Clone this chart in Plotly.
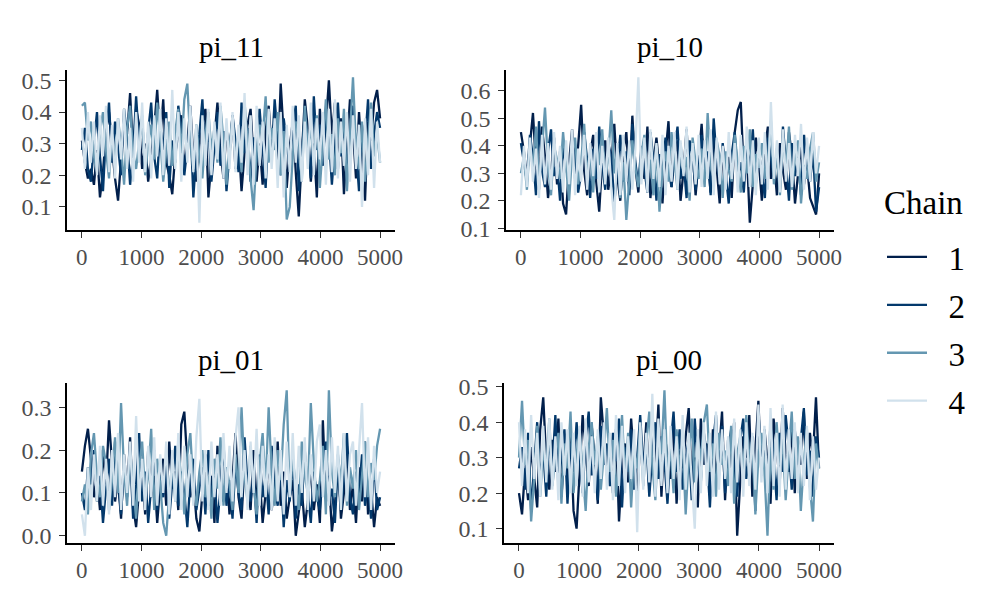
import numpy as np
import plotly.graph_objects as go

# MCMC trace plot: 4 parameters x 4 chains, 5000 post-warmup draws each.
# Each chain is kept as a thinned set of draws (100 per chain).

CHAINS = ["1", "2", "3", "4"]
PANEL_TITLES = ["pi_11", "pi_10", "pi_01", "pi_00"]
X_TICKS = [0, 1000, 2000, 3000, 4000, 5000]
N_ITER = 5000

pi_11_chain1 = [0.31, 0.24, 0.19, 0.22, 0.17, 0.28, 0.13, 0.21, 0.34, 0.40,
                0.29, 0.19, 0.12, 0.25, 0.38, 0.33, 0.46, 0.27, 0.41, 0.36,
                0.22, 0.30, 0.18, 0.26, 0.35, 0.47, 0.31, 0.44, 0.24, 0.20,
                0.14, 0.27, 0.33, 0.39, 0.22, 0.30, 0.42, 0.25, 0.18, 0.29,
                0.36, 0.41, 0.13, 0.24, 0.32, 0.43, 0.28, 0.19, 0.35, 0.26,
                0.39, 0.22, 0.31, 0.15, 0.27, 0.36, 0.41, 0.25, 0.18, 0.30,
                0.17, 0.34, 0.42, 0.28, 0.38, 0.23, 0.49, 0.33, 0.16, 0.29,
                0.37, 0.21, 0.07, 0.26, 0.44, 0.35, 0.18, 0.30, 0.13, 0.41,
                0.27, 0.36, 0.50, 0.32, 0.43, 0.22, 0.38, 0.14, 0.29, 0.44,
                0.34, 0.19, 0.40, 0.26, 0.12, 0.37, 0.31, 0.43, 0.47, 0.38]
pi_11_chain2 = [0.28, 0.35, 0.22, 0.18, 0.30, 0.40, 0.26, 0.15, 0.33, 0.43,
                0.24, 0.37, 0.29, 0.20, 0.41, 0.32, 0.17, 0.27, 0.45, 0.30,
                0.38, 0.21, 0.34, 0.43, 0.26, 0.19, 0.36, 0.28, 0.40, 0.16,
                0.31, 0.24, 0.42, 0.35, 0.20, 0.29, 0.38, 0.13, 0.27, 0.33,
                0.44, 0.25, 0.36, 0.18, 0.30, 0.40, 0.23, 0.34, 0.15, 0.28,
                0.39, 0.31, 0.21, 0.43, 0.27, 0.35, 0.18, 0.32, 0.24, 0.41,
                0.29, 0.16, 0.37, 0.26, 0.44, 0.33, 0.20, 0.38, 0.30, 0.22,
                0.35, 0.42, 0.15, 0.27, 0.39, 0.31, 0.19, 0.45, 0.28, 0.36,
                0.23, 0.40, 0.32, 0.17, 0.29, 0.43, 0.26, 0.37, 0.21, 0.34,
                0.42, 0.28, 0.15, 0.36, 0.30, 0.44, 0.22, 0.33, 0.40, 0.35]
pi_11_chain3 = [0.42, 0.43, 0.31, 0.37, 0.26, 0.21, 0.34, 0.40, 0.28, 0.19,
                0.33, 0.24, 0.38, 0.29, 0.17, 0.35, 0.42, 0.27, 0.22, 0.31,
                0.39, 0.20, 0.30, 0.36, 0.25, 0.43, 0.32, 0.18, 0.28, 0.37,
                0.23, 0.34, 0.41, 0.27, 0.44, 0.49, 0.30, 0.22, 0.36, 0.26,
                0.19, 0.33, 0.40, 0.28, 0.35, 0.24, 0.42, 0.31, 0.17, 0.29,
                0.38, 0.25, 0.33, 0.21, 0.43, 0.30, 0.19, 0.09, 0.27, 0.36,
                0.32, 0.45, 0.24, 0.35, 0.28, 0.40, 0.20, 0.34, 0.06, 0.10,
                0.26, 0.37, 0.31, 0.18, 0.42, 0.29, 0.35, 0.23, 0.39, 0.16,
                0.30, 0.44, 0.25, 0.33, 0.20, 0.38, 0.27, 0.41, 0.15, 0.34,
                0.51, 0.29, 0.22, 0.37, 0.18, 0.31, 0.43, 0.26, 0.33, 0.24]
pi_11_chain4 = [0.35, 0.22, 0.40, 0.24, 0.37, 0.20, 0.39, 0.26, 0.42, 0.21,
                0.36, 0.19, 0.38, 0.25, 0.41, 0.22, 0.35, 0.18, 0.40, 0.24,
                0.43, 0.21, 0.37, 0.19, 0.39, 0.26, 0.41, 0.20, 0.38, 0.23,
                0.47, 0.22, 0.40, 0.18, 0.38, 0.24, 0.42, 0.21, 0.36, 0.05,
                0.39, 0.23, 0.41, 0.20, 0.37, 0.25, 0.43, 0.19, 0.38, 0.22,
                0.40, 0.21, 0.36, 0.24, 0.46, 0.20, 0.39, 0.17, 0.42, 0.23,
                0.37, 0.19, 0.41, 0.22, 0.38, 0.16, 0.40, 0.13, 0.36, 0.21,
                0.42, 0.24, 0.39, 0.18, 0.37, 0.22, 0.43, 0.20, 0.38, 0.25,
                0.40, 0.17, 0.41, 0.21, 0.44, 0.19, 0.37, 0.23, 0.40, 0.18,
                0.39, 0.22, 0.36, 0.10, 0.38, 0.20, 0.41, 0.16, 0.37, 0.24]

pi_10_chain1 = [0.45, 0.38, 0.29, 0.41, 0.52, 0.33, 0.24, 0.47, 0.36, 0.21,
                0.30, 0.43, 0.26, 0.38, 0.19, 0.15, 0.34, 0.46, 0.28, 0.40,
                0.55, 0.31, 0.22, 0.37, 0.44, 0.27, 0.16, 0.35, 0.42, 0.24,
                0.33, 0.48, 0.29, 0.20, 0.38, 0.45, 0.26, 0.51, 0.32, 0.23,
                0.39, 0.28, 0.47, 0.21, 0.34, 0.43, 0.30, 0.19, 0.37, 0.49,
                0.25, 0.36, 0.42, 0.20, 0.31, 0.46, 0.27, 0.39, 0.22, 0.34,
                0.48, 0.29, 0.37, 0.23, 0.44, 0.32, 0.19, 0.40, 0.27, 0.36,
                0.21, 0.45, 0.53, 0.56, 0.30, 0.38, 0.12, 0.26, 0.43, 0.34,
                0.20, 0.39, 0.47, 0.28, 0.35, 0.22, 0.41, 0.31, 0.24, 0.45,
                0.36, 0.19, 0.29, 0.40, 0.26, 0.33, 0.21, 0.18, 0.15, 0.30]
pi_10_chain2 = [0.41, 0.33, 0.27, 0.44, 0.36, 0.22, 0.49, 0.31, 0.25, 0.38,
                0.46, 0.29, 0.34, 0.20, 0.40, 0.32, 0.26, 0.43, 0.37, 0.23,
                0.30, 0.45, 0.35, 0.21, 0.39, 0.28, 0.47, 0.33, 0.24, 0.41,
                0.36, 0.19, 0.31, 0.44, 0.27, 0.38, 0.22, 0.48, 0.34, 0.26,
                0.40, 0.31, 0.23, 0.45, 0.35, 0.20, 0.37, 0.29, 0.43, 0.32,
                0.25, 0.39, 0.47, 0.28, 0.34, 0.21, 0.42, 0.36, 0.24, 0.33,
                0.44, 0.30, 0.38, 0.22, 0.50, 0.35, 0.27, 0.41, 0.31, 0.19,
                0.37, 0.45, 0.29, 0.34, 0.23, 0.40, 0.32, 0.46, 0.26, 0.38,
                0.30, 0.21, 0.43, 0.35, 0.28, 0.39, 0.24, 0.47, 0.33, 0.20,
                0.41, 0.29, 0.36, 0.22, 0.44, 0.31, 0.27, 0.38, 0.16, 0.25]
pi_10_chain3 = [0.30, 0.36, 0.24, 0.42, 0.31, 0.47, 0.27, 0.39, 0.54, 0.33,
                0.22, 0.40, 0.35, 0.28, 0.45, 0.31, 0.20, 0.37, 0.43, 0.26,
                0.34, 0.48, 0.29, 0.38, 0.23, 0.41, 0.33, 0.46, 0.27, 0.36,
                0.53, 0.30, 0.39, 0.21, 0.34, 0.13, 0.28, 0.42, 0.32, 0.25,
                0.37, 0.44, 0.29, 0.35, 0.22, 0.40, 0.16, 0.31, 0.38, 0.27,
                0.45, 0.33, 0.24, 0.41, 0.30, 0.36, 0.20, 0.43, 0.34, 0.28,
                0.39, 0.25, 0.52, 0.33, 0.28, 0.42, 0.36, 0.21, 0.38, 0.31,
                0.27, 0.44, 0.34, 0.23, 0.40, 0.30, 0.46, 0.25, 0.37, 0.32,
                0.41, 0.28, 0.35, 0.49, 0.26, 0.38, 0.22, 0.43, 0.31, 0.47,
                0.24, 0.36, 0.42, 0.19, 0.33, 0.28, 0.39, 0.45, 0.27, 0.34]
pi_10_chain4 = [0.22, 0.40, 0.25, 0.43, 0.27, 0.39, 0.21, 0.44, 0.26, 0.41,
                0.24, 0.45, 0.28, 0.40, 0.23, 0.42, 0.26, 0.46, 0.22, 0.39,
                0.27, 0.44, 0.24, 0.41, 0.29, 0.45, 0.23, 0.40, 0.26, 0.43,
                0.25, 0.13, 0.41, 0.22, 0.44, 0.27, 0.42, 0.24, 0.39, 0.65,
                0.26, 0.43, 0.23, 0.46, 0.28, 0.41, 0.25, 0.44, 0.22, 0.40,
                0.27, 0.45, 0.24, 0.42, 0.29, 0.47, 0.23, 0.41, 0.26, 0.44,
                0.25, 0.42, 0.28, 0.46, 0.22, 0.43, 0.26, 0.40, 0.24, 0.45,
                0.28, 0.41, 0.23, 0.44, 0.27, 0.47, 0.25, 0.42, 0.22, 0.43,
                0.26, 0.45, 0.24, 0.56, 0.28, 0.42, 0.23, 0.46, 0.27, 0.41,
                0.25, 0.44, 0.29, 0.48, 0.24, 0.43, 0.27, 0.45, 0.30, 0.40]

pi_01_chain1 = [0.15, 0.21, 0.25, 0.18, 0.09, 0.14, 0.06, 0.20, 0.12, 0.27,
                0.17, 0.08, 0.13, 0.04, 0.19, 0.10, 0.23, 0.07, 0.02, 0.11,
                0.16, 0.05, 0.20, 0.09, 0.14, 0.03, 0.12, 0.18, 0.07, 0.22,
                0.11, 0.15, 0.06, 0.26, 0.29, 0.17, 0.09, 0.13, 0.04, 0.01,
                0.10, 0.19, 0.07, 0.14, 0.03, 0.21, 0.12, 0.08, 0.16, 0.05,
                0.13, 0.24, 0.09, 0.04, 0.17, 0.11, 0.06, 0.20, 0.08, 0.14,
                0.03, 0.10, 0.18, 0.06, 0.12, 0.22, 0.07, 0.15, 0.04, 0.09,
                0.13, 0.00, 0.05, 0.11, 0.02, 0.08, 0.16, 0.06, 0.12, 0.03,
                0.27, 0.09, 0.14, 0.01, 0.07, 0.18, 0.04, 0.10, 0.21, 0.06,
                0.12, 0.03, 0.16, 0.08, 0.22, 0.05, 0.11, 0.02, 0.09, 0.07]
pi_01_chain2 = [0.10, 0.06, 0.16, 0.12, 0.20, 0.08, 0.14, 0.03, 0.11, 0.18,
                0.07, 0.22, 0.13, 0.05, 0.16, 0.09, 0.19, 0.04, 0.12, 0.24,
                0.08, 0.15, 0.03, 0.11, 0.20, 0.06, 0.14, 0.09, 0.17, 0.04,
                0.12, 0.21, 0.07, 0.15, 0.10, 0.02, 0.13, 0.18, 0.06, 0.11,
                0.16, 0.05, 0.20, 0.09, 0.14, 0.03, 0.11, 0.22, 0.07, 0.13,
                0.04, 0.17, 0.10, 0.06, 0.23, 0.12, 0.08, 0.15, 0.03, 0.19,
                0.09, 0.14, 0.05, 0.21, 0.11, 0.07, 0.16, 0.02, 0.13, 0.08,
                0.18, 0.04, 0.12, 0.07, 0.20, 0.10, 0.03, 0.15, 0.09, 0.06,
                0.14, 0.22, 0.08, 0.11, 0.03, 0.17, 0.06, 0.13, 0.24, 0.09,
                0.05, 0.15, 0.10, 0.19, 0.07, 0.12, 0.04, 0.18, 0.06, 0.09]
pi_01_chain3 = [0.08, 0.12, 0.05, 0.19, 0.24, 0.14, 0.09, 0.21, 0.17, 0.06,
                0.13, 0.23, 0.10, 0.31, 0.15, 0.07, 0.20, 0.11, 0.04, 0.16,
                0.22, 0.09, 0.14, 0.25, 0.06, 0.18, 0.12, 0.03, 0.00, 0.10,
                0.17, 0.08, 0.21, 0.13, 0.05, 0.19, 0.24, 0.11, 0.07, 0.15,
                0.20, 0.09, 0.14, 0.04, 0.18, 0.11, 0.23, 0.07, 0.16, 0.12,
                0.06, 0.19, 0.10, 0.30, 0.14, 0.08, 0.21, 0.12, 0.05, 0.17,
                0.24, 0.11, 0.30, 0.15, 0.07, 0.20, 0.13, 0.26, 0.34, 0.09,
                0.18, 0.12, 0.06, 0.22, 0.14, 0.10, 0.31, 0.17, 0.08, 0.13,
                0.21, 0.05, 0.34, 0.15, 0.09, 0.19, 0.12, 0.24, 0.07, 0.16,
                0.11, 0.20, 0.06, 0.14, 0.22, 0.09, 0.17, 0.13, 0.21, 0.25]
pi_01_chain4 = [0.05, 0.00, 0.16, 0.06, 0.19, 0.08, 0.21, 0.07, 0.18, 0.05,
                0.20, 0.09, 0.24, 0.06, 0.19, 0.10, 0.22, 0.07, 0.28, 0.08,
                0.18, 0.06, 0.21, 0.09, 0.23, 0.07, 0.19, 0.10, 0.22, 0.05,
                0.20, 0.08, 0.24, 0.06, 0.21, 0.09, 0.19, 0.07, 0.23, 0.32,
                0.08, 0.20, 0.06, 0.22, 0.09, 0.19, 0.07, 0.24, 0.10, 0.21,
                0.08, 0.23, 0.30, 0.09, 0.20, 0.06, 0.22, 0.10, 0.25, 0.07,
                0.21, 0.09, 0.19, 0.06, 0.23, 0.08, 0.20, 0.05, 0.22, 0.09,
                0.24, 0.07, 0.21, 0.10, 0.23, 0.06, 0.19, 0.08, 0.22, 0.26,
                0.09, 0.20, 0.07, 0.23, 0.10, 0.21, 0.06, 0.24, 0.08, 0.19,
                0.22, 0.07, 0.20, 0.31, 0.09, 0.23, 0.06, 0.21, 0.10, 0.15]

pi_00_chain1 = [0.20, 0.14, 0.27, 0.18, 0.33, 0.24, 0.16, 0.38, 0.47, 0.29,
                0.21, 0.35, 0.26, 0.41, 0.19, 0.31, 0.24, 0.37, 0.15, 0.10,
                0.28, 0.42, 0.33, 0.22, 0.39, 0.30, 0.17, 0.47, 0.36, 0.25,
                0.31, 0.20, 0.38, 0.12, 0.27, 0.34, 0.23, 0.41, 0.29, 0.18,
                0.35, 0.26, 0.40, 0.21, 0.33, 0.28, 0.45, 0.19, 0.37, 0.30,
                0.24, 0.39, 0.17, 0.32, 0.27, 0.36, 0.44, 0.22, 0.30, 0.16,
                0.41, 0.28, 0.34, 0.20, 0.38, 0.25, 0.31, 0.43, 0.18, 0.35,
                0.27, 0.40, 0.08, 0.23, 0.36, 0.30, 0.42, 0.19, 0.33, 0.46,
                0.25, 0.38, 0.29, 0.17, 0.41, 0.34, 0.22, 0.44, 0.31, 0.26,
                0.39, 0.20, 0.35, 0.28, 0.43, 0.24, 0.37, 0.30, 0.47, 0.27]
pi_00_chain2 = [0.27, 0.33, 0.21, 0.37, 0.15, 0.29, 0.40, 0.24, 0.32, 0.19,
                0.36, 0.27, 0.42, 0.22, 0.31, 0.38, 0.17, 0.34, 0.26, 0.40,
                0.30, 0.20, 0.35, 0.43, 0.25, 0.32, 0.18, 0.39, 0.28, 0.34,
                0.22, 0.37, 0.29, 0.41, 0.16, 0.33, 0.26, 0.38, 0.21, 0.30,
                0.42, 0.27, 0.35, 0.19, 0.31, 0.40, 0.24, 0.36, 0.29, 0.17,
                0.33, 0.43, 0.26, 0.38, 0.21, 0.30, 0.35, 0.18, 0.41, 0.28,
                0.23, 0.37, 0.31, 0.16, 0.34, 0.42, 0.25, 0.39, 0.20, 0.32,
                0.38, 0.27, 0.19, 0.35, 0.41, 0.24, 0.30, 0.36, 0.15, 0.43,
                0.29, 0.34, 0.22, 0.40, 0.31, 0.18, 0.37, 0.26, 0.42, 0.33,
                0.21, 0.38, 0.28, 0.35, 0.44, 0.25, 0.32, 0.19, 0.36, 0.30]
pi_00_chain3 = [0.30, 0.46, 0.28, 0.35, 0.12, 0.24, 0.39, 0.19, 0.33, 0.26,
                0.41, 0.22, 0.30, 0.37, 0.17, 0.34, 0.27, 0.43, 0.20, 0.31,
                0.38, 0.25, 0.15, 0.33, 0.40, 0.28, 0.36, 0.21, 0.31, 0.44,
                0.26, 0.35, 0.19, 0.30, 0.42, 0.24, 0.37, 0.16, 0.32, 0.27,
                0.39, 0.22, 0.34, 0.43, 0.28, 0.18, 0.36, 0.31, 0.49, 0.25,
                0.33, 0.20, 0.38, 0.27, 0.35, 0.14, 0.30, 0.41, 0.23, 0.36,
                0.29, 0.40, 0.45, 0.26, 0.34, 0.19, 0.37, 0.28, 0.32, 0.22,
                0.39, 0.17, 0.31, 0.36, 0.24, 0.42, 0.29, 0.35, 0.14, 0.30,
                0.37, 0.26, 0.08, 0.33, 0.21, 0.40, 0.28, 0.35, 0.18, 0.31,
                0.43, 0.24, 0.36, 0.15, 0.29, 0.38, 0.22, 0.12, 0.34, 0.27]
pi_00_chain4 = [0.40, 0.22, 0.38, 0.20, 0.42, 0.24, 0.37, 0.19, 0.39, 0.23,
                0.41, 0.21, 0.36, 0.18, 0.40, 0.25, 0.38, 0.20, 0.37, 0.22,
                0.39, 0.19, 0.41, 0.23, 0.36, 0.20, 0.38, 0.24, 0.40, 0.21,
                0.37, 0.18, 0.42, 0.22, 0.39, 0.20, 0.36, 0.24, 0.38, 0.09,
                0.40, 0.21, 0.37, 0.23, 0.48, 0.19, 0.41, 0.22, 0.38, 0.20,
                0.39, 0.24, 0.36, 0.18, 0.42, 0.21, 0.37, 0.23, 0.10, 0.38,
                0.20, 0.40, 0.22, 0.37, 0.19, 0.43, 0.21, 0.38, 0.24, 0.36,
                0.20, 0.41, 0.23, 0.38, 0.19, 0.40, 0.22, 0.37, 0.21, 0.45,
                0.23, 0.39, 0.20, 0.44, 0.22, 0.37, 0.19, 0.45, 0.21, 0.38,
                0.24, 0.40, 0.20, 0.37, 0.22, 0.39, 0.18, 0.36, 0.21, 0.30]

PANEL_SERIES = [
    [pi_11_chain1, pi_11_chain2, pi_11_chain3, pi_11_chain4],
    [pi_10_chain1, pi_10_chain2, pi_10_chain3, pi_10_chain4],
    [pi_01_chain1, pi_01_chain2, pi_01_chain3, pi_01_chain4],
    [pi_00_chain1, pi_00_chain2, pi_00_chain3, pi_00_chain4],
]

# bayesplot "blue" scheme, chain order dark -> light
CHAIN_COLORS = ["#011f4b", "#03396c", "#6497b1", "#d1e1ec"]

W, H = 1000, 600
# panel boxes in page pixels: (left, top, right, bottom)
PANEL_BOXES = [(67, 70, 395, 230), (506, 70, 834, 230), (67, 383, 395, 543), (504, 383, 834, 543)]

FONT = "Liberation Serif"

fig = go.Figure()

axis_common = dict(
    showline=True, linecolor="black", linewidth=1.6,
    ticks="outside", ticklen=6, tickwidth=1.2, tickcolor="#333333",
    showgrid=False, zeroline=False, automargin=False,
)

x_pad = 0.05 * (N_ITER - 1)

for p, (title, series, box) in enumerate(zip(PANEL_TITLES, PANEL_SERIES, PANEL_BOXES)):
    n = "" if p == 0 else str(p + 1)
    for c, vals in enumerate(series):
        x = np.linspace(1, N_ITER, len(vals))
        fig.add_trace(go.Scatter(
            x=x, y=vals, mode="lines",
            line=dict(color=CHAIN_COLORS[c], width=2.3),
            # non-breaking spaces push the key label out to where ggplot puts it
            name="\u00a0\u00a0" + CHAINS[c], legendgroup=CHAINS[c], showlegend=(p == 0),
            xaxis="x" + n, yaxis="y" + n, hoverinfo="skip",
        ))

    l, t, r, b = box
    allv = np.concatenate([np.asarray(s) for s in series])
    lo, hi = allv.min(), allv.max()
    pad = 0.05 * (hi - lo)

    fig.update_layout(**{
        "xaxis" + n: dict(domain=[l / W, r / W], anchor="y" + n,
                          range=[1 - x_pad, N_ITER + x_pad],
                          tickvals=X_TICKS, tickformat="d",
                          tickfont=dict(family=FONT, size=23, color="#4d4d4d"),
                          **axis_common),
        "yaxis" + n: dict(domain=[1 - b / H, 1 - t / H], anchor="x" + n,
                          range=[lo - pad, hi + pad],
                          tick0=0, dtick=0.1, tickformat=".1f", ticklabelstandoff=3,
                          tickfont=dict(family=FONT, size=24, color="#4d4d4d"),
                          **axis_common),
    })
    fig.add_annotation(
        text=title, x=(l + r) / 2 / W, y=1 - (t - 23) / H,
        xref="paper", yref="paper", showarrow=False,
        xanchor="center", yanchor="middle",
        font=dict(family=FONT, size=29, color="black"),
    )

# legend title drawn as a text label so its gap to the keys matches ggplot
fig.add_annotation(
    text="Chain", x=882 / W, y=1 - 203 / H, xref="paper", yref="paper",
    showarrow=False, xanchor="left", yanchor="middle",
    font=dict(family=FONT, size=33, color="black"),
)

fig.update_layout(
    template="none",
    width=W, height=H,
    margin=dict(l=0, r=0, t=0, b=0, autoexpand=False),
    paper_bgcolor="white", plot_bgcolor="white",
    font=dict(family=FONT, color="black"),
    showlegend=True,
    legend=dict(
        font=dict(family=FONT, size=33, color="black"),
        x=0.882, y=1 - 229 / H, xanchor="left", yanchor="top",
        itemwidth=40, tracegroupgap=2, bgcolor="rgba(0,0,0,0)",
    ),
)

fig.write_html("out.html", config={"displayModeBar": False},
               post_script="document.body.style.margin = '0';")
